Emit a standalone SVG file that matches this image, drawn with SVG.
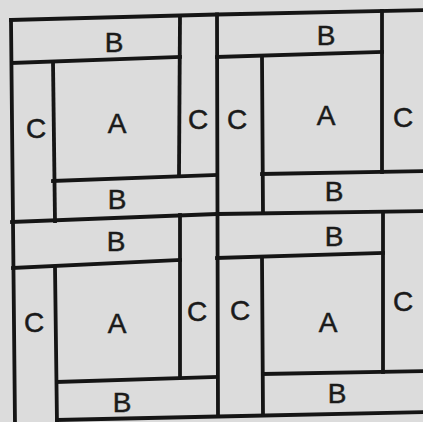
<svg xmlns="http://www.w3.org/2000/svg" width="423" height="422" viewBox="0 0 423 422">
<style>
.ln{stroke:#151515;stroke-width:3.8;fill:none;stroke-linecap:square;stroke-linejoin:miter}
.lb{font-family:"Liberation Sans",Arial,sans-serif;font-size:28px;fill:#1a1a1a;stroke:#1a1a1a;stroke-width:0.5;text-anchor:middle}
</style>
<rect x="0" y="0" width="423" height="422" fill="#dcdcdc"/>
<g id="frame">
<polyline class="ln" points="11,20 217,14.5 425,10"/>
<polyline class="ln" points="12,222 217,214 425,211"/>
<polyline class="ln" points="57,420 218,416.5 425,412"/>
<line class="ln" x1="11" y1="20" x2="15" y2="425"/>
<line class="ln" x1="217" y1="14.5" x2="218" y2="416"/>
</g>
<g id="block-top-left">
<line class="ln" x1="12" y1="63" x2="180" y2="57"/>
<line class="ln" x1="180" y1="16" x2="179" y2="175"/>
<line class="ln" x1="53" y1="62" x2="55" y2="221"/>
<line class="ln" x1="53" y1="181" x2="217" y2="175"/>
<text class="lb" x="114" y="52">B</text>
<text class="lb" x="36" y="138">C</text>
<text class="lb" x="117" y="133">A</text>
<text class="lb" x="198" y="129">C</text>
<text class="lb" x="117" y="209">B</text>
</g>
<g id="block-top-right">
<line class="ln" x1="217" y1="57" x2="382" y2="52"/>
<line class="ln" x1="382" y1="11" x2="382" y2="172"/>
<line class="ln" x1="262" y1="57" x2="263" y2="213"/>
<line class="ln" x1="262" y1="174" x2="425" y2="171"/>
<text class="lb" x="326" y="45">B</text>
<text class="lb" x="237" y="129">C</text>
<text class="lb" x="326" y="125">A</text>
<text class="lb" x="403" y="127">C</text>
<text class="lb" x="334" y="201">B</text>
</g>
<g id="block-bottom-left">
<line class="ln" x1="13" y1="268" x2="180" y2="260"/>
<line class="ln" x1="180" y1="215" x2="180" y2="377"/>
<line class="ln" x1="55" y1="267" x2="57" y2="424"/>
<line class="ln" x1="57" y1="382" x2="217" y2="377"/>
<text class="lb" x="116" y="251">B</text>
<text class="lb" x="34" y="332">C</text>
<text class="lb" x="117" y="333">A</text>
<text class="lb" x="197" y="321">C</text>
<text class="lb" x="122" y="412">B</text>
</g>
<g id="block-bottom-right">
<line class="ln" x1="217" y1="258" x2="383" y2="253"/>
<line class="ln" x1="383" y1="212" x2="383" y2="372"/>
<line class="ln" x1="262" y1="258" x2="263" y2="414"/>
<line class="ln" x1="263" y1="374" x2="425" y2="371"/>
<text class="lb" x="334" y="246">B</text>
<text class="lb" x="240" y="320">C</text>
<text class="lb" x="328" y="332">A</text>
<text class="lb" x="403" y="311">C</text>
<text class="lb" x="337" y="403">B</text>
</g>
</svg>
